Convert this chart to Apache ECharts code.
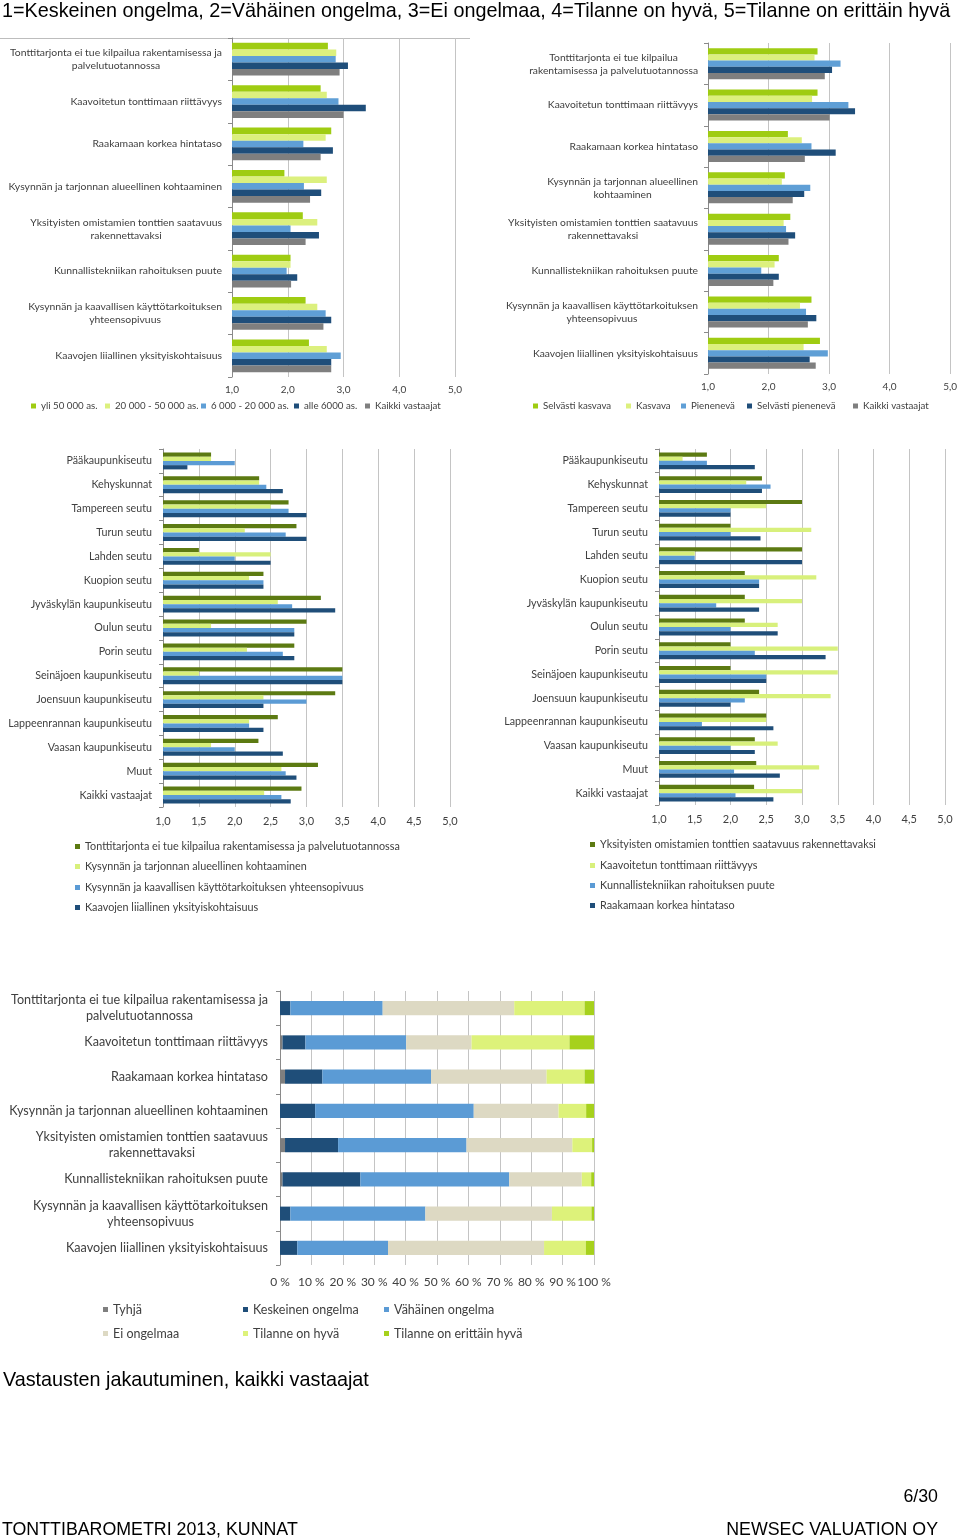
<!DOCTYPE html>
<html><head><meta charset="utf-8">
<script src="https://cdn.jsdelivr.net/npm/echarts@6/dist/echarts.min.js"></script>
<style>html,body{margin:0;padding:0;background:#fff}#c{width:960px;height:1539px}</style>
</head><body><div id="c"></div>
<script>
// ---------- DATA ----------
const problemsTL = [
  "Tonttitarjonta ei tue kilpailua rakentamisessa ja\npalvelutuotannossa",
  "Kaavoitetun tonttimaan riittävyys",
  "Raakamaan korkea hintataso",
  "Kysynnän ja tarjonnan alueellinen kohtaaminen",
  "Yksityisten omistamien tonttien saatavuus\nrakennettavaksi",
  "Kunnallistekniikan rahoituksen puute",
  "Kysynnän ja kaavallisen käyttötarkoituksen\nyhteensopivuus",
  "Kaavojen liiallinen yksityiskohtaisuus"
];
const problemsTR = [
  "Tonttitarjonta ei tue kilpailua\nrakentamisessa ja palvelutuotannossa",
  "Kaavoitetun tonttimaan riittävyys",
  "Raakamaan korkea hintataso",
  "Kysynnän ja tarjonnan alueellinen\nkohtaaminen",
  "Yksityisten omistamien tonttien saatavuus\nrakennettavaksi",
  "Kunnallistekniikan rahoituksen puute",
  "Kysynnän ja kaavallisen käyttötarkoituksen\nyhteensopivuus",
  "Kaavojen liiallinen yksityiskohtaisuus"
];
const sizeNames = ["yli 50 000 as.", "20 000 - 50 000 as.", "6 000 - 20 000 as.", "alle 6000 as.", "Kaikki vastaajat"];
const sizeYli50 = [2.72, 2.59, 2.78, 1.94, 2.27, 2.05, 2.32, 2.38];
const size20to50 = [2.87, 2.70, 2.68, 2.70, 2.53, 2.05, 2.53, 2.70];
const size6to20 = [2.86, 2.91, 2.28, 2.29, 2.05, 1.98, 2.68, 2.95];
const sizeAlle6 = [3.08, 3.40, 2.81, 2.60, 2.56, 2.17, 2.78, 2.78];
const sizeKaikki = [2.93, 3.00, 2.59, 2.40, 2.32, 2.06, 2.64, 2.78];

const trendNames = ["Selvästi kasvava", "Kasvava", "Pienenevä", "Selvästi pienenevä", "Kaikki vastaajat"];
const trendSelvKasv = [2.81, 2.81, 2.32, 2.27, 2.36, 2.17, 2.71, 2.85];
const trendKasv = [2.76, 2.72, 2.55, 2.22, 2.25, 2.10, 2.52, 2.58];
const trendPien = [3.19, 3.32, 2.71, 2.69, 2.29, 1.88, 2.62, 2.98];
const trendSelvPien = [3.05, 3.43, 3.11, 2.59, 2.44, 2.17, 2.79, 2.68];
const trendKaikki = [2.93, 3.01, 2.60, 2.40, 2.33, 2.08, 2.65, 2.78];

const regions = ["Pääkaupunkiseutu", "Kehyskunnat", "Tampereen seutu", "Turun seutu", "Lahden seutu", "Kuopion seutu",
  "Jyväskylän kaupunkiseutu", "Oulun seutu", "Porin seutu", "Seinäjoen kaupunkiseutu", "Joensuun kaupunkiseutu",
  "Lappeenrannan kaupunkiseutu", "Vaasan kaupunkiseutu", "Muut", "Kaikki vastaajat"];
const regNamesL = ["Tonttitarjonta ei tue kilpailua rakentamisessa ja palvelutuotannossa",
  "Kysynnän ja tarjonnan alueellinen kohtaaminen",
  "Kysynnän ja kaavallisen käyttötarkoituksen yhteensopivuus",
  "Kaavojen liiallinen yksityiskohtaisuus"];
const regTontti = [1.67, 2.34, 2.75, 2.86, 1.50, 2.40, 3.20, 3.00, 2.83, 3.50, 3.40, 2.60, 2.33, 3.16, 2.93];
const regKohtaaminen = [1.67, 2.34, 2.50, 2.14, 2.50, 2.20, 2.60, 1.67, 2.17, 1.50, 2.40, 2.20, 1.67, 2.65, 2.41];
const regYhteensop = [2.00, 2.44, 2.75, 2.71, 2.00, 2.40, 2.80, 2.83, 2.67, 3.50, 3.00, 2.20, 2.00, 2.71, 2.65];
const regKaavojen = [1.34, 2.67, 3.00, 3.00, 2.50, 2.40, 3.40, 2.83, 2.83, 3.50, 2.40, 2.40, 2.67, 2.86, 2.78];

const regNamesR = ["Yksityisten omistamien tonttien saatavuus rakennettavaksi",
  "Kaavoitetun tonttimaan riittävyys",
  "Kunnallistekniikan rahoituksen puute",
  "Raakamaan korkea hintataso"];
const regYksityisten = [1.67, 2.44, 3.00, 2.00, 3.00, 2.20, 2.20, 2.20, 2.00, 2.00, 2.40, 2.50, 2.34, 2.36, 2.33];
const regKaavoitetun = [1.33, 2.22, 2.50, 3.13, 1.50, 3.20, 3.00, 2.66, 3.50, 3.50, 3.40, 2.50, 2.66, 3.24, 3.00];
const regKunnallis = [1.67, 2.56, 2.00, 2.00, 1.50, 2.40, 1.80, 2.00, 2.34, 2.50, 2.20, 1.60, 2.00, 2.05, 2.07];
const regRaakamaan = [2.34, 2.44, 2.00, 2.42, 3.00, 2.40, 2.40, 2.66, 3.33, 2.50, 2.00, 2.60, 2.34, 2.69, 2.60];

const distNames = ["Tyhjä", "Keskeinen ongelma", "Vähäinen ongelma", "Ei ongelmaa", "Tilanne on hyvä", "Tilanne on erittäin hyvä"];
const distTyhja = [0, 0.8, 1.6, 0, 1.6, 0.8, 0, 0];
const distKeskeinen = [3.3, 7.3, 11.9, 11.2, 16.9, 24.8, 3.3, 5.5];
const distVahainen = [29.4, 32.1, 34.6, 50.5, 40.9, 47.4, 43.0, 28.9];
const distEi = [41.9, 20.8, 36.8, 27.0, 33.7, 23.1, 40.3, 49.7];
const distHyva = [22.4, 31.2, 12.1, 8.8, 6.3, 3.0, 12.6, 13.3];
const distErittain = [3.0, 7.8, 3.0, 2.5, 0.6, 0.9, 0.8, 2.6];

const headingText = "1=Keskeinen ongelma, 2=Vähäinen ongelma, 3=Ei ongelmaa, 4=Tilanne on hyvä, 5=Tilanne on erittäin hyvä";
const subTitleText = "Vastausten jakautuminen, kaikki vastaajat";
const pageText = "6/30";
const footLeft = "TONTTIBAROMETRI 2013, KUNNAT";
const footRight = "NEWSEC VALUATION OY";

// ---------- STYLE ----------
const FONT = 'Lato';
const TXT = '#404040';
const GRIDC = '#c4c4c4';
const AXC = '#8a8a8a';
const colSize = ['#9fcc12', '#dcf07e', '#5f9fd6', '#1f4e7a', '#7f7f7f'];
const colReg = ['#5c7a12', '#d8f07c', '#5b9bd5', '#1f4e79'];
const colDist = ['#7f7f7f', '#1f4e79', '#5b9bd5', '#ddd9c3', '#ddf27a', '#a6d11c'];

const chart = echarts.init(document.getElementById('c'));

function catAxis(gi, data, fs, lh, margin) {
  return {
    type: 'category', gridIndex: gi, data: data, inverse: true,
    axisLine: { show: true, lineStyle: { color: AXC, width: 1 } },
    axisTick: { show: true, length: 4, lineStyle: { color: AXC } },
    splitLine: { show: false },
    axisLabel: {
      margin: margin, interval: 0,
      formatter: v => v.split('\n').map(s => '{c|' + s + '}').join('\n'),
      rich: { c: { align: 'center', fontSize: fs, lineHeight: lh, fontFamily: FONT, color: TXT } }
    }
  };
}
function valAxis(gi, min, max, interval, fs, margin, fmt) {
  return {
    type: 'value', gridIndex: gi, min: min, max: max, interval: interval,
    axisLine: { show: false }, axisTick: { show: false },
    splitLine: { show: true, lineStyle: { color: GRIDC, width: 1 } },
    axisLabel: { margin: margin, fontSize: fs, fontFamily: FONT, color: TXT, formatter: fmt }
  };
}
const dec = v => v.toFixed(1).replace('.', ',');
const pct = v => v + ' %';

function barSeries(names, datas, colors, gi, gap, stack) {
  return names.map((n, i) => {
    const s = {
      type: 'bar', name: n, data: datas[i], xAxisIndex: gi, yAxisIndex: gi,
      itemStyle: { color: colors[i] }, barGap: '0%', barCategoryGap: gap, clip: true,
      emphasis: { disabled: true }, animation: false
    };
    if (stack) s.stack = stack;
    return s;
  });
}
function legendItem(name, left, top, fs) {
  return {
    data: [name], left: left, top: top, padding: 0, itemWidth: 5, itemHeight: 5, icon: 'rect',
    selectedMode: false, textStyle: { fontSize: fs, fontFamily: FONT, color: TXT }
  };
}

const legends = [];
[31, 105, 201, 294, 365].forEach((x, i) => legends.push(legendItem(sizeNames[i], x, 401, 9.7)));
[533, 626, 681, 747, 853].forEach((x, i) => legends.push(legendItem(trendNames[i], x, 401, 9.7)));
[841, 861, 882, 902].forEach((y, i) => legends.push(legendItem(regNamesL[i], 75, y, 10.8)));
[839, 860, 880, 900].forEach((y, i) => legends.push(legendItem(regNamesR[i], 590, y, 10.8)));
[[103, 1303], [243, 1303], [384, 1303], [103, 1327], [243, 1327], [384, 1327]].forEach((p, i) =>
  legends.push(legendItem(distNames[i], p[0], p[1], 12.5)));

const titleStyle = (fs) => ({ fontSize: fs, fontFamily: 'Liberation Sans', fontWeight: 'normal', color: '#000' });

const option = {
  backgroundColor: '#fff',
  animation: false,
  title: [
    { text: headingText, left: 2, top: 2, padding: 0, textStyle: titleStyle(19.8) },
    { text: subTitleText, left: 3, top: 1371, padding: 0, textStyle: titleStyle(19.8) },
    { text: pageText, right: 22, top: 1488, padding: 0, textStyle: titleStyle(17.8) },
    { text: footLeft, left: 2, top: 1521, padding: 0, textStyle: titleStyle(17.8) },
    { text: footRight, right: 22, top: 1521, padding: 0, textStyle: titleStyle(17.8) }
  ],
  graphic: [
    { type: 'line', shape: { x1: 0, y1: 38.5, x2: 470, y2: 38.5 }, style: { stroke: '#bdbdbd', lineWidth: 1 } }
  ],
  legend: legends,
  grid: [
    { left: 232, top: 38, width: 223, height: 339 },
    { left: 708, top: 43, width: 243, height: 331 },
    { left: 163, top: 449, width: 287, height: 358 },
    { left: 659, top: 449, width: 286, height: 356 },
    { left: 280, top: 991, width: 314, height: 274 }
  ],
  xAxis: [
    valAxis(0, 1, 5, 1, 10, 8, dec),
    valAxis(1, 1, 5, 1, 10, 8, dec),
    valAxis(2, 1, 5, 0.5, 11, 9, dec),
    valAxis(3, 1, 5, 0.5, 11, 9, dec),
    valAxis(4, 0, 100, 10, 12, 11, pct)
  ],
  yAxis: [
    catAxis(0, problemsTL, 10.4, 13, 10),
    catAxis(1, problemsTR, 10.3, 13, 10),
    catAxis(2, regions, 10.7, 13, 11),
    catAxis(3, regions, 10.7, 13, 11),
    catAxis(4, problemsTL, 12.6, 16, 12)
  ],
  series: [].concat(
    barSeries(sizeNames, [sizeYli50, size20to50, size6to20, sizeAlle6, sizeKaikki], colSize, 0, '23%'),
    barSeries(trendNames, [trendSelvKasv, trendKasv, trendPien, trendSelvPien, trendKaikki], colSize, 1, '25%'),
    barSeries(regNamesL, [regTontti, regKohtaaminen, regYhteensop, regKaavojen], colReg, 2, '29%'),
    barSeries(regNamesR, [regYksityisten, regKaavoitetun, regKunnallis, regRaakamaan], colReg, 3, '29%'),
    barSeries(distNames, [distTyhja, distKeskeinen, distVahainen, distEi, distHyva, distErittain], colDist, 4, '59%', 'dist')
  )
};
chart.setOption(option);
</script>
</body></html>
